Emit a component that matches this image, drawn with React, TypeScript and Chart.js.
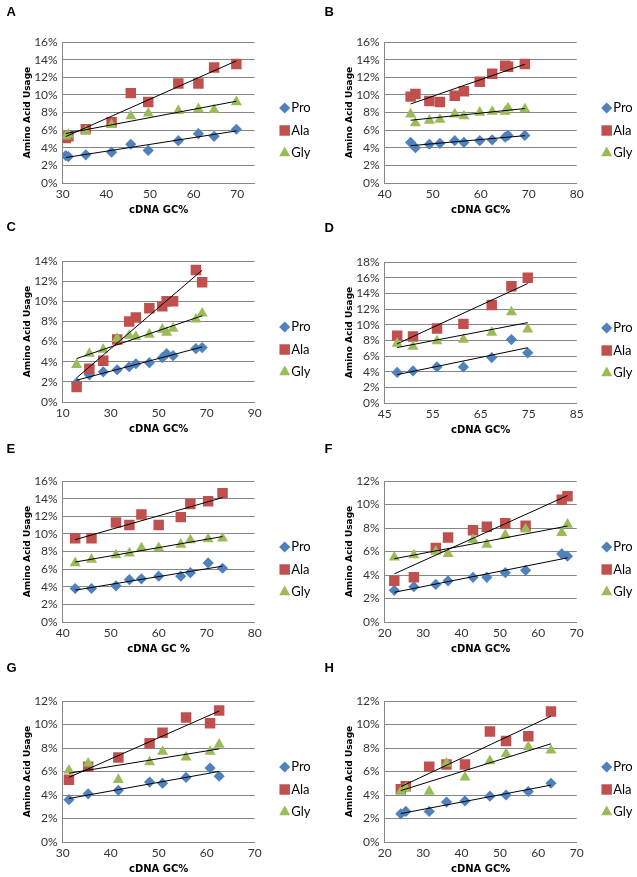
import React, { useEffect, useRef } from 'react';
import { Chart, registerables } from 'chart.js';

Chart.register(...registerables);

// ---------- data (values in %) ----------
const seriesNames = ['Pro', 'Ala', 'Gly'];
const yTickStep = 2;

const xA = [30.7, 31.3, 35.3, 41.2, 45.6, 49.6, 56.5, 61.1, 64.7, 69.8];
const proA = [3.1, 3.0, 3.2, 3.5, 4.4, 3.7, 4.8, 5.6, 5.3, 6.1];
const alaA = [5.1, 5.3, 6.1, 6.9, 10.2, 9.2, 11.3, 11.3, 13.1, 13.5];
const glyA = [5.3, 5.5, 5.9, 6.6, 7.6, 7.9, 8.2, 8.4, 8.3, 9.2];

const xB = [45.4, 46.4, 49.3, 51.5, 54.6, 56.5, 59.8, 62.4, 65.1, 65.7, 69.2];
const proB = [4.6, 4.0, 4.4, 4.5, 4.8, 4.6, 4.8, 4.9, 5.2, 5.4, 5.4];
const alaB = [9.8, 10.1, 9.3, 9.2, 9.9, 10.4, 11.5, 12.4, 13.3, 13.2, 13.5];
const glyB = [7.8, 6.8, 7.1, 7.2, 7.8, 7.6, 8.0, 8.1, 8.1, 8.5, 8.4];

const xC = [15.8, 21.1, 26.9, 32.7, 37.7, 40.5, 46.1, 51.5, 53.3, 56.0, 65.5, 68.1];
const proC = [1.9, 2.7, 3.0, 3.2, 3.5, 3.8, 3.9, 4.4, 4.8, 4.6, 5.3, 5.4];
const alaC = [1.5, 3.3, 4.1, 6.2, 8.0, 8.4, 9.3, 9.5, 10.0, 10.0, 13.1, 11.9];
const glyC = [3.7, 4.8, 5.2, 6.3, 6.6, 6.5, 6.7, 7.2, 6.9, 7.3, 8.2, 8.8];

const xD = [47.6, 50.9, 55.9, 61.4, 67.3, 71.4, 74.8];
const proD = [3.9, 4.1, 4.6, 4.6, 5.8, 8.1, 6.4];
const alaD = [8.6, 8.5, 9.5, 10.1, 12.5, 14.9, 16.0];
const glyD = [7.6, 7.2, 7.9, 8.1, 9.0, 11.6, 9.4];

const xE = [42.6, 46.0, 51.1, 53.9, 56.4, 60.0, 64.6, 66.6, 70.3, 73.3];
const proE = [3.8, 3.8, 4.1, 4.8, 4.9, 5.2, 5.2, 5.6, 6.7, 6.1];
const alaE = [9.5, 9.5, 11.3, 11.0, 12.2, 11.0, 11.9, 13.4, 13.7, 14.6];
const glyE = [6.7, 7.1, 7.6, 7.8, 8.4, 8.4, 8.8, 9.3, 9.4, 9.5];

const xF = [22.5, 27.6, 33.3, 36.5, 43.0, 46.6, 51.4, 56.7, 66.1, 67.6];
const proF = [2.7, 3.0, 3.2, 3.5, 3.8, 3.8, 4.2, 4.4, 5.8, 5.6];
const alaF = [3.5, 3.8, 6.3, 7.2, 7.8, 8.1, 8.4, 8.2, 10.4, 10.7];
const glyF = [5.5, 5.7, 6.0, 5.8, 7.0, 6.6, 7.4, 7.9, 7.6, 8.3];

const xG = [31.3, 35.3, 41.6, 48.1, 50.8, 55.7, 60.7, 62.6];
const proG = [3.6, 4.1, 4.4, 5.1, 5.0, 5.5, 6.3, 5.6];
const alaG = [5.3, 6.4, 7.2, 8.4, 9.3, 10.6, 10.1, 11.2];
const glyG = [6.1, 6.7, 5.3, 6.8, 7.7, 7.2, 7.7, 8.3];

const xH = [24.2, 25.5, 31.6, 36.1, 40.9, 47.4, 51.6, 57.4, 63.3];
const proH = [2.4, 2.6, 2.6, 3.4, 3.5, 3.9, 4.0, 4.3, 5.0];
const alaH = [4.5, 4.75, 6.4, 6.6, 6.6, 9.4, 8.6, 9.0, 11.1];
const glyH = [4.3, 4.6, 4.3, 6.7, 5.5, 6.9, 7.5, 8.1, 7.8];

const panelLetters = ['A', 'B', 'C', 'D', 'E', 'F', 'G', 'H'];
const xTitles = ['cDNA GC%', 'cDNA GC%', 'cDNA GC%', 'cDNA GC%', 'cDNA GC %', 'cDNA GC%', 'cDNA GC%', 'cDNA GC%'];
const yTitle = 'Amino Acid Usage';
const xMins = [30, 40, 10, 45, 40, 20, 30, 20];
const xMaxs = [74, 80, 90, 85, 80, 70, 70, 70];
const xSteps = [10, 10, 20, 10, 10, 10, 10, 10];
const yMaxs = [16, 16, 14, 18, 16, 12, 12, 12];

const xs = [xA, xB, xC, xD, xE, xF, xG, xH];
const pros = [proA, proB, proC, proD, proE, proF, proG, proH];
const alas = [alaA, alaB, alaC, alaD, alaE, alaF, alaG, alaH];
const glys = [glyA, glyB, glyC, glyD, glyE, glyF, glyG, glyH];

// ---------- layout / style ----------
const COLORS = ['#4F81BD', '#C0504D', '#9BBB59'];
const STYLES = ['rectRot', 'rect', 'triangle'];
const RADII = [5.6, 7.4, 6.4];
const ORDERS = [4, 3, 2];
const GRID = '#868686';
const CANVAS_H = 221;
const PLOT_LEFT = 62.7;
const PLOT_W = 192;
const PLOT_TOP = 46;
const PLOT_BOTTOM = 187;

const panelPos = [
  { left: 0, top: -3.7, width: 318, letterX: 6.5, letterY: 12.5 },
  { left: 322, top: -3.7, width: 315, letterX: 2.5, letterY: 12.5 },
  { left: 0, top: 215.3, width: 318, letterX: 6.5, letterY: 227.5 },
  { left: 322, top: 215.5, width: 315, letterX: 2.5, letterY: 228 },
  { left: 0, top: 435, width: 318, letterX: 6.5, letterY: 449 },
  { left: 322, top: 435, width: 315, letterX: 2.5, letterY: 449 },
  { left: 0, top: 655, width: 318, letterX: 6.5, letterY: 668 },
  { left: 322, top: 655, width: 315, letterX: 2.5, letterY: 668 },
];

function linFit(x: number[], y: number[]) {
  const n = x.length;
  const mx = x.reduce((a, b) => a + b, 0) / n;
  const my = y.reduce((a, b) => a + b, 0) / n;
  let sxy = 0, sxx = 0;
  for (let i = 0; i < n; i++) {
    sxy += (x[i] - mx) * (y[i] - my);
    sxx += (x[i] - mx) * (x[i] - mx);
  }
  const b = sxy / sxx;
  const a = my - b * mx;
  const x0 = Math.min(...x), x1 = Math.max(...x);
  return [{ x: x0, y: a + b * x0 }, { x: x1, y: a + b * x1 }];
}

function drawMarker(ctx: CanvasRenderingContext2D, style: string, cx: number, cy: number, r: number, color: string) {
  ctx.beginPath();
  if (style === 'rectRot') {
    ctx.moveTo(cx - r, cy);
    ctx.lineTo(cx, cy - r);
    ctx.lineTo(cx + r, cy);
    ctx.lineTo(cx, cy + r);
    ctx.closePath();
  } else if (style === 'rect') {
    const s = r * Math.SQRT1_2;
    ctx.rect(cx - s, cy - s, 2 * s, 2 * s);
  } else {
    const c = Math.cos(Math.PI / 6) * r;
    ctx.moveTo(cx, cy - r);
    ctx.lineTo(cx + c, cy + r / 2);
    ctx.lineTo(cx - c, cy + r / 2);
    ctx.closePath();
  }
  ctx.fillStyle = color;
  ctx.fill();
}

const decorPlugin = {
  id: 'decor',
  afterDraw(chart: any, _args: any, opts: any) {
    const { ctx, chartArea } = chart;
    ctx.save();
    ctx.textBaseline = 'middle';
    ctx.textAlign = 'left';
    ctx.fillStyle = '#000';
    ctx.font = 'bold 13px "Liberation Sans", Arial, sans-serif';
    ctx.fillText(opts.letter, opts.letterX, opts.letterY);
    const rows = [66, 88.5, 111];
    for (let i = 0; i < 3; i++) {
      const ds = chart.data.datasets[i];
      const cy = chartArea.top + rows[i];
      drawMarker(ctx, ds.pointStyle, chartArea.right + 30, cy, ds.pointRadius, ds.backgroundColor);
      ctx.fillStyle = '#000';
      ctx.font = '13px Lato, sans-serif';
      ctx.fillText(ds.label, chartArea.right + 36.5, cy);
    }
    ctx.restore();
  },
};

function Panel({ idx }: { idx: number }) {
  const ref = useRef<HTMLCanvasElement>(null);
  const pos = panelPos[idx];
  useEffect(() => {
    const canvas = ref.current;
    if (!canvas) return;
    const x = xs[idx];
    const series = [pros[idx], alas[idx], glys[idx]];
    const pointSets = series.map((vals, i) => ({
      label: seriesNames[i],
      data: x.map((xv, j) => ({ x: xv, y: vals[j] })),
      pointStyle: STYLES[i],
      pointRadius: RADII[i],
      pointHoverRadius: RADII[i],
      backgroundColor: COLORS[i],
      borderColor: COLORS[i],
      borderWidth: 0,
      showLine: false,
      order: ORDERS[i],
    }));
    const trendSets = series.map((vals, i) => ({
      label: seriesNames[i] + ' trend',
      data: linFit(x, vals),
      showLine: true,
      pointRadius: 0,
      pointHoverRadius: 0,
      borderColor: '#000',
      backgroundColor: '#000',
      borderWidth: 1,
      order: 0,
    }));
    const tickFont = { family: 'Lato, sans-serif', size: 12 };
    const chart = new Chart(canvas, {
      type: 'scatter',
      data: { datasets: [...pointSets, ...trendSets] as any },
      options: {
        responsive: false,
        animation: false,
        devicePixelRatio: 1,
        events: [],
        layout: {
          padding: { left: 0, top: PLOT_TOP, right: pos.width - (PLOT_LEFT + PLOT_W), bottom: 0 },
        },
        plugins: {
          legend: { display: false },
          tooltip: { enabled: false },
          title: { display: false },
          decor: { letter: panelLetters[idx], letterX: pos.letterX, letterY: pos.letterY - pos.top },
        } as any,
        scales: {
          x: {
            type: 'linear',
            min: xMins[idx],
            max: xMaxs[idx],
            afterFit: (s: any) => { s.height = CANVAS_H - PLOT_BOTTOM; },
            ticks: {
              stepSize: xSteps[idx],
              includeBounds: false,
              maxRotation: 0,
              autoSkip: false,
              padding: 4,
              font: tickFont,
              color: '#333',
            },
            grid: { display: false, drawTicks: false },
            border: { display: true, color: GRID, width: 1 },
            title: {
              display: true,
              text: xTitles[idx],
              color: '#000',
              font: { family: '"DejaVu Sans", sans-serif', size: 10, weight: 'bold' },
              padding: { top: 0, bottom: 0.5 },
            },
          },
          y: {
            type: 'linear',
            min: 0,
            max: yMaxs[idx],
            afterFit: (s: any) => { s.width = PLOT_LEFT; },
            ticks: {
              stepSize: yTickStep,
              includeBounds: false,
              autoSkip: false,
              padding: 5,
              font: tickFont,
              color: '#333',
              callback: (v: any) => v + '%',
            },
            grid: { color: GRID, lineWidth: 1, drawTicks: false },
            border: { display: true, color: GRID, width: 1 },
            title: {
              display: true,
              text: yTitle,
              color: '#000',
              font: { family: '"DejaVu Sans", sans-serif', size: 9, weight: 'bold' },
              padding: { top: 22.6, bottom: 0 },
            },
          },
        },
      } as any,
      plugins: [decorPlugin as any],
    });
    return () => chart.destroy();
  }, [idx]);
  return (
    <canvas
      ref={ref}
      width={pos.width}
      height={CANVAS_H}
      style={{ position: 'absolute', left: pos.left, top: pos.top, width: pos.width, height: CANVAS_H, display: 'block' }}
    />
  );
}

export default function App() {
  return (
    <div style={{ position: 'absolute', left: 0, top: 0, width: 637, height: 877, overflow: 'hidden', background: '#fff' }}>
      {panelLetters.map((_, i) => (
        <Panel key={i} idx={i} />
      ))}
    </div>
  );
}
